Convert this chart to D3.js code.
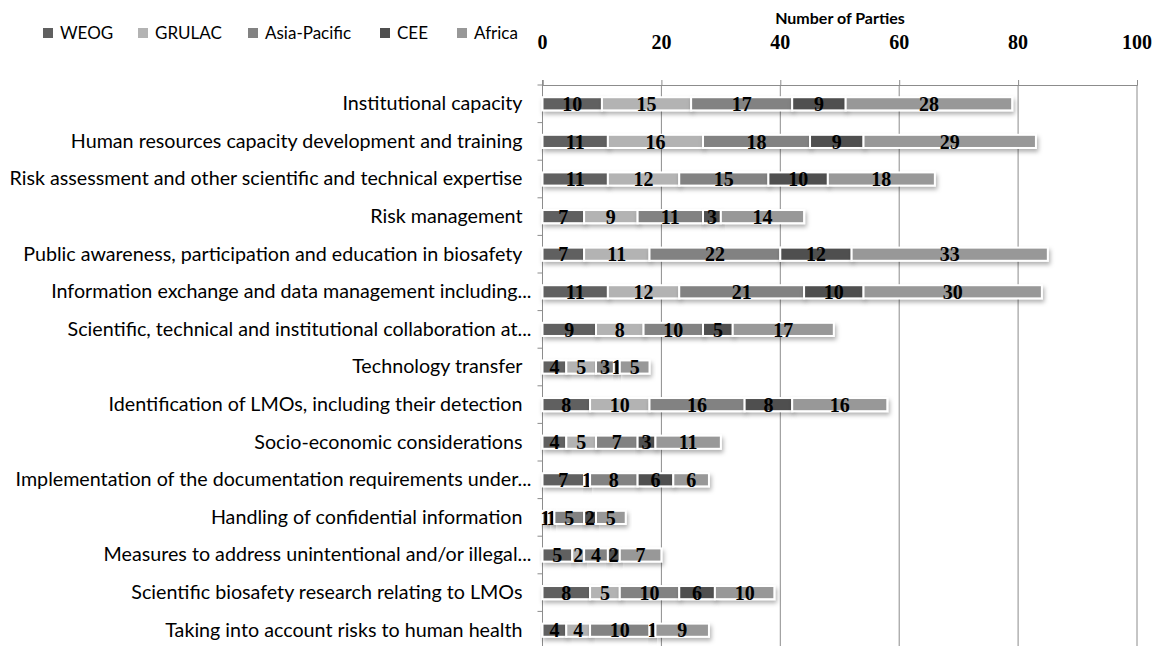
<!DOCTYPE html>
<html>
<head>
<meta charset="utf-8">
<script src="https://cdn.jsdelivr.net/npm/d3@7"></script>
<style>
  body { margin: 0; background: #fff; }
  svg { display: block; }
</style>
</head>
<body>
<div id="chart"></div>
<script>
// chart data
const categories = [
    "Institutional capacity",
    "Human resources capacity development and training",
    "Risk assessment and other scientific and technical expertise",
    "Risk management",
    "Public awareness, participation and education in biosafety",
    "Information exchange and data management including...",
    "Scientific, technical and institutional collaboration at...",
    "Technology transfer",
    "Identification of LMOs, including their detection",
    "Socio-economic considerations",
    "Implementation of the documentation requirements under...",
    "Handling of confidential information",
    "Measures to address unintentional and/or illegal...",
    "Scientific biosafety research relating to LMOs",
    "Taking into account risks to human health"
];
const groups = ["WEOG", "GRULAC", "Asia-Pacific", "CEE", "Africa"];
const weog        = [10, 11, 11, 7, 7, 11, 9, 4, 8, 4, 7, 1, 5, 8, 4];
const grulac      = [15, 16, 12, 9, 11, 12, 8, 5, 10, 5, 1, 1, 2, 5, 4];
const asiaPacific = [17, 18, 15, 11, 22, 21, 10, 3, 16, 7, 8, 5, 4, 10, 10];
const cee         = [9, 9, 10, 3, 12, 10, 5, 1, 8, 3, 6, 2, 2, 6, 1];
const africa      = [28, 29, 18, 14, 33, 30, 17, 5, 16, 11, 6, 5, 7, 10, 9];
const xTicks = [0, 20, 40, 60, 80, 100];

// dimensions
const width = 1157, height = 646;
const margin = {left: 542.5, right: 20, top: 85, bottom: -3};

const svg = d3.select("#chart")
    .append("svg")
    .attr("width", width)
    .attr("height", height);

// soft shadow under the bars
const defs = svg.append("defs");
const shadow = defs.append("filter")
    .attr("id", "shadow")
    .attr("x", "-10%").attr("y", "-40%")
    .attr("width", "130%").attr("height", "220%");
shadow.append("feDropShadow")
    .attr("dx", 1.5).attr("dy", 3)
    .attr("stdDeviation", 2)
    .attr("flood-color", "#000")
    .attr("flood-opacity", 0.3);

const data = categories.map((c, i) => ({
    cat: c,
    "WEOG": weog[i],
    "GRULAC": grulac[i],
    "Asia-Pacific": asiaPacific[i],
    "CEE": cee[i],
    "Africa": africa[i]
}));

const x = d3.scaleLinear()
    .domain([0, 100])
    .range([margin.left, 1137]);

const y = d3.scaleBand()
    .domain(categories)
    .range([margin.top, height - margin.bottom])
    .paddingInner(0.65)
    .paddingOuter(0.325);

const color = d3.scaleOrdinal()
    .domain(groups)
    .range(["#606060", "#b3b3b3", "#828282", "#4f4f4f", "#989898"]);

// gridlines + top axis
svg.append("g")
    .attr("transform", "translate(0," + margin.top + ")")
    .call(d3.axisTop(x).tickValues(xTicks).tickSize(5).tickFormat(""))
    .call(g => g.select(".domain").attr("stroke", "#8c8c8c"))
    .call(g => g.selectAll(".tick line").attr("stroke", "#8c8c8c"));

svg.append("g")
    .selectAll("line")
    .data(xTicks.slice(1))
    .enter().append("line")
    .attr("x1", d => x(d)).attr("x2", d => x(d))
    .attr("y1", margin.top).attr("y2", height)
    .attr("stroke", "#8c8c8c")
    .attr("stroke-width", 1);

// tick labels
svg.append("g")
    .selectAll("text")
    .data(xTicks)
    .enter().append("text")
    .attr("x", d => x(d))
    .attr("y", 49)
    .attr("text-anchor", "middle")
    .style("font-family", "'Liberation Serif', serif")
    .style("font-weight", "bold")
    .style("font-size", "20px")
    .text(d => d);

// axis title
svg.append("text")
    .attr("x", 840)
    .attr("y", 24)
    .attr("text-anchor", "middle")
    .style("font-family", "Lato, sans-serif")
    .style("font-weight", "bold")
    .style("font-size", "16px")
    .text("Number of Parties");

// left axis with category boundary ticks
const step = y.step();
const bounds = d3.range(categories.length + 1).map(i => margin.top + i * step);
svg.append("line")
    .attr("x1", margin.left).attr("x2", margin.left)
    .attr("y1", margin.top - 5).attr("y2", height)
    .attr("stroke", "#8c8c8c");
svg.append("g")
    .selectAll("line")
    .data(bounds)
    .enter().append("line")
    .attr("x1", margin.left - 5).attr("x2", margin.left)
    .attr("y1", d => d).attr("y2", d => d)
    .attr("stroke", "#8c8c8c");

// category labels
svg.append("g")
    .attr("transform", "translate(" + margin.left + ",0)")
    .call(d3.axisLeft(y).tickSize(0).tickPadding(20))
    .call(g => g.select(".domain").remove())
    .call(g => g.selectAll("text")
        .style("font-family", "Lato, sans-serif")
        .style("font-size", "19.7px")
        .attr("fill", "#000")
        .attr("dx", d => d.endsWith("...") ? 9 : 0));

// stacked bars
const stackedData = d3.stack().keys(groups)(data);

const layers = svg.append("g")
    .selectAll("g")
    .data(stackedData)
    .enter().append("g")
    .attr("fill", d => color(d.key));

layers.selectAll("rect")
    .data(d => d)
    .enter().append("rect")
    .attr("x", d => x(d[0]))
    .attr("y", d => y(d.data.cat))
    .attr("width", d => x(d[1]) - x(d[0]))
    .attr("height", y.bandwidth())
    .attr("stroke", "#fff")
    .attr("stroke-width", 2)
    .attr("filter", "url(#shadow)");

// value labels
layers.selectAll("text")
    .data(d => d)
    .enter().append("text")
    .attr("x", d => (x(d[0]) + x(d[1])) / 2)
    .attr("y", d => y(d.data.cat) + y.bandwidth() / 2)
    .attr("dy", "0.36em")
    .attr("text-anchor", "middle")
    .style("font-family", "'Liberation Serif', serif")
    .style("font-weight", "bold")
    .style("font-size", "20px")
    .attr("fill", "#000")
    .text(d => d[1] - d[0]);

// legend
const legendX = [43, 138, 248, 380, 457];
const legend = svg.append("g")
    .selectAll("g")
    .data(groups)
    .enter().append("g")
    .attr("transform", (d, i) => "translate(" + legendX[i] + ",28)");
legend.append("rect")
    .attr("width", 10).attr("height", 10)
    .attr("fill", d => color(d));
legend.append("text")
    .attr("x", 17)
    .attr("y", 11)
    .style("font-family", "Lato, sans-serif")
    .style("font-size", "17px")
    .text(d => d);
</script>
</body>
</html>
